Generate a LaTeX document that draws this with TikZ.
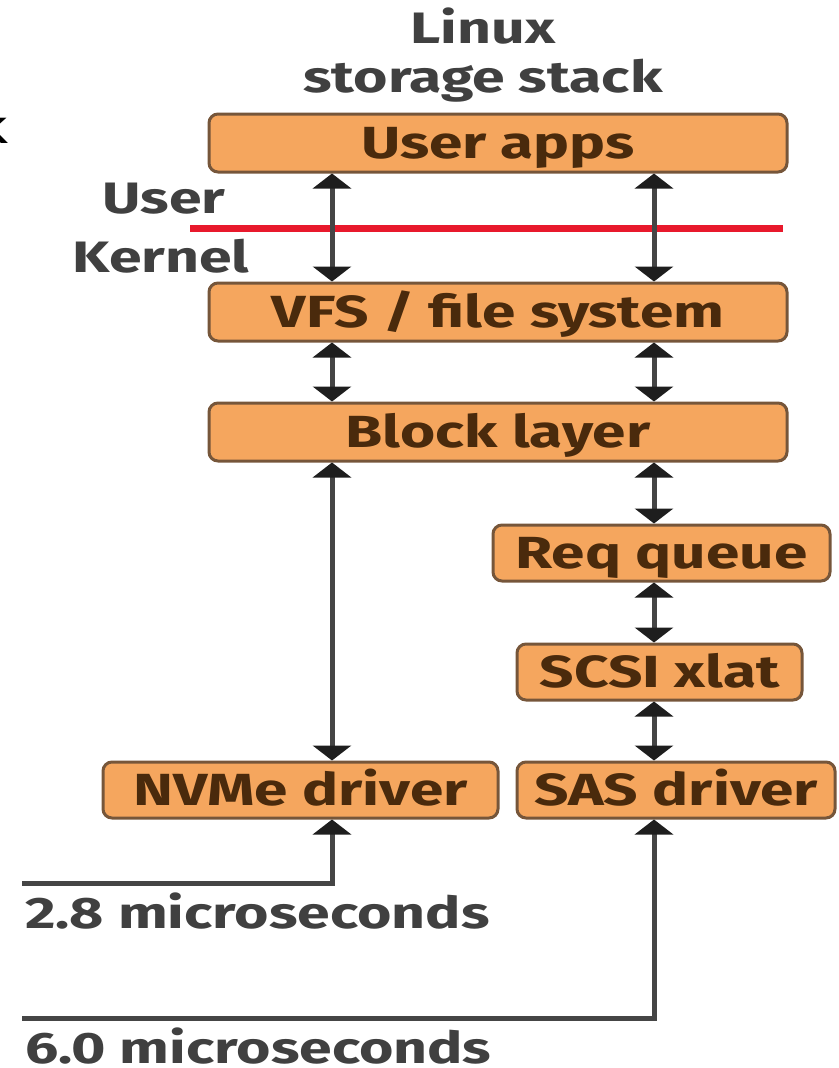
\documentclass[tikz,border=0pt]{standalone}
\usepackage{fontspec}
\setmainfont{Fira Sans}
\newfontfamily\widefont{Fira Sans}[FakeStretch=1.34]
\usetikzlibrary{arrows.meta}
\definecolor{boxfill}{HTML}{F5A65E}
\definecolor{boxline}{HTML}{76563A}
\definecolor{boxtext}{HTML}{4A2A0C}
\definecolor{labeltext}{HTML}{404040}
\definecolor{linkline}{HTML}{454545}
\definecolor{tipdark}{HTML}{1E1E1E}
\definecolor{kernelred}{HTML}{E8192C}
\begin{document}
\begin{tikzpicture}[x=1pt,y=-1pt,
  layer/.style={draw=boxline, line width=3pt, fill=boxfill, rounded corners=9pt,
    text=boxtext, font=\widefont\fontsize{45}{50}\selectfont\bfseries,
    text height=31pt, text depth=0pt, inner sep=0pt},
  caption/.style={text=labeltext, font=\widefont\fontsize{44}{50}\selectfont\bfseries,
    anchor=base, inner sep=0pt},
  link/.style={draw=linkline, line width=5pt, {Triangle[width=38pt,length=15pt,color=tipdark]}-{Triangle[width=38pt,length=15pt,color=tipdark]}},
  feed/.style={draw=linkline, line width=5pt, -{Triangle[width=38pt,length=15pt,color=tipdark]}}
]
\useasboundingbox (0,0) rectangle (838,1068);

% column positions of the vertical connectors
\coordinate (lcol) at (332,0);
\coordinate (rcol) at (654,0);

% stack layers
\node[layer, minimum width=578pt, minimum height=58pt] (apps)  at (498,143) {User apps};
\node[layer, minimum width=578pt, minimum height=58pt] (vfs)   at (498,312) {VFS / file system};
\node[layer, minimum width=578pt, minimum height=58pt] (block) at (498,432) {Block layer};
\node[layer, minimum width=337pt, minimum height=56pt] (req)   at (661.5,553) {Req queue};
\node[layer, minimum width=285pt, minimum height=56pt] (scsi)  at (659.5,672) {SCSI xlat};
\node[layer, minimum width=395pt, minimum height=56pt] (nvme)  at (300.5,790) {NVMe driver};
\node[layer, minimum width=318pt, minimum height=56pt] (sas)   at (676,790) {SAS driver};

% headings and side labels
\node[caption] (title1) at (483,43) {Linux};
\node[caption] (title2) at (483,92) {storage stack};
\node[caption] (user)   at (164,213) {User};
\node[caption] (kernel) at (161,272) {Kernel};
\node[text=black, font=\widefont\fontsize{48}{50}\selectfont, anchor=base east, inner sep=0pt] (frag) at (9,143) {k};

% user / kernel boundary
\coordinate (redL) at (190,228);
\coordinate (redR) at (783,228);
\draw[kernelred, line width=7pt] (redL) -- (redR);

% connectors between layers
\draw[link] (apps.south -| lcol) -- (vfs.north -| lcol);
\draw[link] (apps.south -| rcol) -- (vfs.north -| rcol);
\draw[link] (vfs.south -| lcol) -- (block.north -| lcol);
\draw[link] (vfs.south -| rcol) -- (block.north -| rcol);
\draw[link] (block.south -| lcol) -- (nvme.north -| lcol);
\draw[link] (block.south -| rcol) -- (req.north -| rcol);
\draw[link] (req.south -| rcol) -- (scsi.north -| rcol);
\draw[link] (scsi.south -| rcol) -- (sas.north -| rcol);

% latency paths below the drivers
\coordinate (foot1) at (22,883);
\coordinate (foot2) at (22,1018);
\draw[feed] (foot1) -| (nvme.south -| lcol);
\draw[feed] (foot2) -| (sas.south -| rcol);

\node[caption, anchor=base west] (lat1) at (25,928) {2.8 microseconds};
\node[caption, anchor=base west] (lat2) at (25,1063) {6.0 microseconds};
\end{tikzpicture}
\end{document}
